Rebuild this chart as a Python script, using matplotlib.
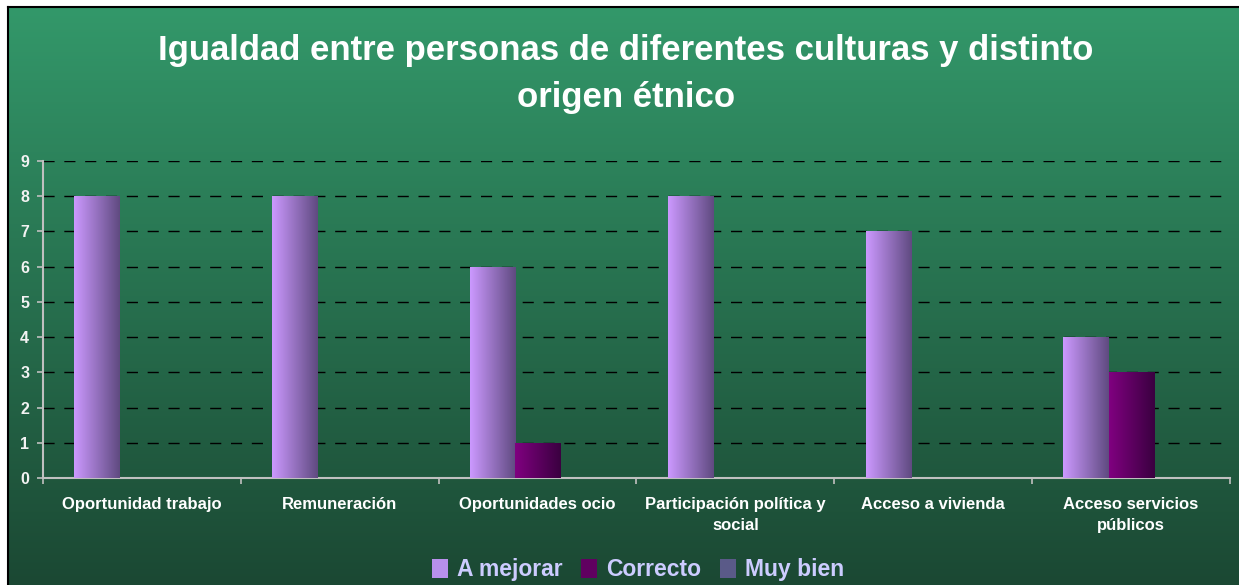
import numpy as np
import matplotlib
matplotlib.use('Agg')
import matplotlib.pyplot as plt
from matplotlib.colors import LinearSegmentedColormap
from matplotlib.patches import Patch

# Datos del gráfico
categorias = ['Oportunidad trabajo', 'Remuneración', 'Oportunidades ocio',
              'Participación política y\nsocial', 'Acceso a vivienda',
              'Acceso servicios\npúblicos']
series = ['A mejorar', 'Correcto', 'Muy bien']
a_mejorar = [8, 8, 6, 8, 7, 4]
correcto = [0, 0, 1, 0, 0, 3]
muy_bien = [0, 0, 0, 0, 0, 0]

# Degradados de cada serie (izquierda -> derecha)
degradados = [('#cc99ff', '#5f4a80'), ('#800080', '#3a0040'), ('#7a7aa8', '#333366')]

plt.rcParams['font.family'] = ['Liberation Sans', 'DejaVu Sans']

fig = plt.figure(figsize=(12.39, 5.85), dpi=100)
fig.patch.set_facecolor('white')

# Fondo verde con degradado vertical
fondo = fig.add_axes([8 / 1239, 0, 1 - 8 / 1239, 1 - 7 / 585])
verde = LinearSegmentedColormap.from_list('verde', ['#1b4833', '#33986a'])
fondo.imshow(np.linspace(0, 1, 256).reshape(-1, 1)[::-1], aspect='auto', cmap=verde,
             extent=[0, 1, 0, 1])
fondo.set_xlim(0, 1)
fondo.set_ylim(0, 1)
fondo.set_xticks([])
fondo.set_yticks([])
for s in ['left', 'top']:
    fondo.spines[s].set_color('black')
    fondo.spines[s].set_linewidth(1.5)
for s in ['right', 'bottom']:
    fondo.spines[s].set_visible(False)

ax = fig.add_axes([43 / 1239, (585 - 478) / 585, (1230 - 43) / 1239, (478 - 161) / 585])
ax.set_facecolor('none')

x = np.arange(len(categorias))
ancho = 0.228
valores = [a_mejorar, correcto, muy_bien]
grad = np.linspace(0, 1, 256).reshape(1, -1)
for i, (vals, (c1, c2)) in enumerate(zip(valores, degradados)):
    barras = ax.bar(x + (i - 1) * ancho, vals, ancho, color='none', edgecolor='none', zorder=3)
    cmap = LinearSegmentedColormap.from_list('s%d' % i, [c1, c2])
    for b in barras:
        if b.get_height() <= 0:
            continue
        im = ax.imshow(grad, aspect='auto', cmap=cmap, zorder=3,
                       extent=[b.get_x(), b.get_x() + b.get_width(), 0, b.get_height()])
        im.set_clip_path(b)

ax.set_xlim(-0.5, len(categorias) - 0.5)
ax.set_ylim(0, 9)
ax.set_yticks(range(10))
ax.yaxis.grid(True, color='black', linestyle=(0, (8, 7)), linewidth=1)
ax.set_axisbelow(True)

ax.set_xticks(np.arange(len(categorias) + 1) - 0.5)
ax.set_xticklabels([])
ax.set_xticks(x, minor=True)
ax.set_xticklabels(categorias, minor=True, color='white', fontsize=12, fontweight='bold',
                   linespacing=1.45)
ax.tick_params(axis='x', which='minor', length=0, pad=14)
ax.tick_params(axis='x', which='major', length=4, color='#c0c0c0', width=1.2)
ax.tick_params(axis='y', length=4, color='#c0c0c0', width=1.2, labelcolor='#f2f2f2',
               labelsize=11.5, pad=6)
for lab in ax.get_yticklabels():
    lab.set_fontweight('bold')

for s in ['top', 'right']:
    ax.spines[s].set_visible(False)
ax.spines['left'].set_color('#c0c0c0')
ax.spines['bottom'].set_color('#c0c0c0')
ax.spines['left'].set_linewidth(1.5)
ax.spines['bottom'].set_linewidth(1.5)

fig.text(0.505, 1 - 74 / 585, 'Igualdad entre personas de diferentes culturas y distinto\norigen étnico',
         ha='center', va='center', color='white', fontsize=25, fontweight='bold', linespacing=1.55)

# Leyenda inferior
manejadores = [Patch(facecolor='#b890ec'), Patch(facecolor='#600060'), Patch(facecolor='#5a5a88')]
leg = fig.legend(manejadores, series, loc='center', bbox_to_anchor=(0.515, 0.026), ncol=3,
                 frameon=False, handlelength=0.7, handleheight=0.9, handletextpad=0.4,
                 columnspacing=0.8, prop={'size': 16.5, 'weight': 'bold'})
for t in leg.get_texts():
    t.set_color('#ccccff')

fig.savefig('out.png', dpi=100, facecolor='white')
